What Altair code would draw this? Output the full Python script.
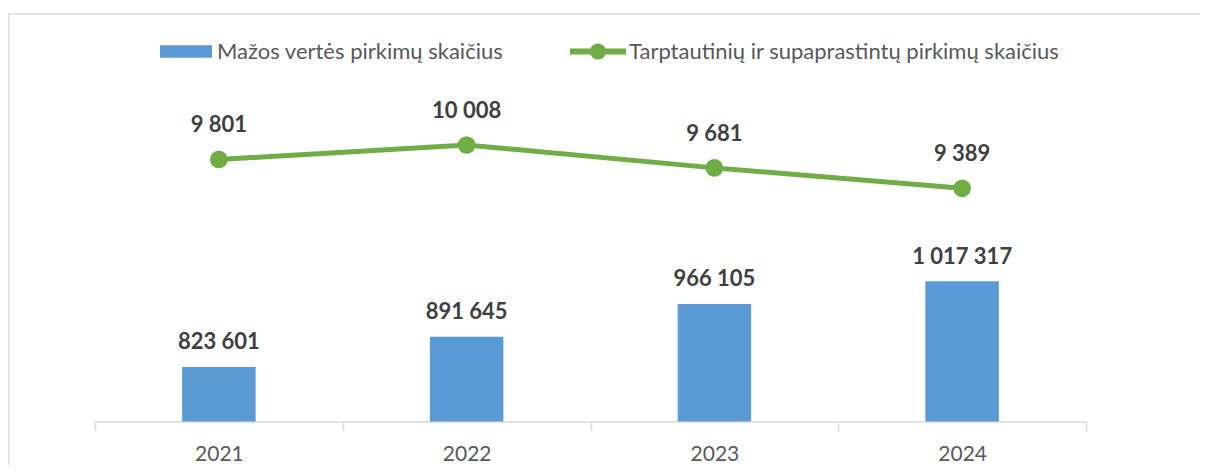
import altair as alt
import pandas as pd

years = ["2021", "2022", "2023", "2024"]
small_counts = [823601, 891645, 966105, 1017317]
intl_counts = [9801, 10008, 9681, 9389]
series_small = "Mažos vertės pirkimų skaičius"
series_intl = "Tarptautinių ir supaprastintų pirkimų skaičius"

BLUE = "#5B9BD5"
GREEN = "#70AD47"
FONT = "Lato"


def fmt(v):
    return f"{v:,}".replace(",", " ")


bars_df = pd.DataFrame({
    "year": years,
    "value": small_counts,
    "label": [fmt(v) for v in small_counts],
    "series": series_small,
})
line_df = pd.DataFrame({
    "year": years,
    "value": intl_counts,
    "label": [fmt(v) for v in intl_counts],
    "series": series_intl,
})

bar_domain = [700000, 1605200]
line_domain = [6058, 11772]

x_enc = alt.X(
    "year:N",
    sort=years,
    scale=alt.Scale(paddingInner=0, paddingOuter=0),
    axis=alt.Axis(
        title=None, labelAngle=0, grid=False,
        domainColor="#d9d9d9", domainWidth=1.5,
        tickColor="#d9d9d9", tickWidth=1.5, tickSize=9, tickBand="extent",
        labelFont=FONT, labelFontSize=21, labelColor="#595959", labelPadding=13,
    ),
)

rect_path = "M-0.93,-0.225H0.93V0.225H-0.93Z"
line_path = ("M-1,-0.107H1V0.107H-1Z "
             "M-0.286,0A0.286,0.286 0 1,1 0.286,0A0.286,0.286 0 1,1 -0.286,0Z")

legend_common = dict(
    title=None, orient="none", legendY=2, direction="horizontal",
    labelFont=FONT, labelFontSize=22, labelColor="#595959", labelLimit=0,
    symbolSize=3136, labelOffset=3, symbolStrokeWidth=0, symbolOpacity=1, padding=0,
)

frame = alt.Chart(pd.DataFrame({"a": [0]})).mark_rect(
    filled=False, stroke="#d9d9d9", strokeWidth=1.5
).encode(
    x=alt.value(-86), x2=alt.value(1300), y=alt.value(-7.5), y2=alt.value(700)
)

bar_y = alt.Y("value:Q", scale=alt.Scale(domain=bar_domain, zero=False, nice=False, clamp=True), axis=None)
line_y = alt.Y("value:Q", scale=alt.Scale(domain=line_domain, zero=False, nice=False), axis=None)

bars = alt.Chart(bars_df).mark_bar(width=73.5).encode(
    x=x_enc,
    y=bar_y,
    color=alt.Color(
        "series:N",
        scale=alt.Scale(domain=[series_small], range=[BLUE]),
        legend=alt.Legend(legendX=63, symbolType=rect_path, symbolFillColor=BLUE, **legend_common),
    ),
)
bar_text = alt.Chart(bars_df).mark_text(
    font=FONT, fontSize=22, fontWeight="bold", color="#404040", dy=-17.5, baseline="alphabetic"
).encode(x=x_enc, y=bar_y, text="label:N")

line = alt.Chart(line_df).mark_line(strokeWidth=5, color=GREEN).encode(x=x_enc, y=line_y)
points = alt.Chart(line_df).mark_circle(size=314, opacity=1).encode(
    x=x_enc,
    y=line_y,
    color=alt.Color(
        "series:N",
        scale=alt.Scale(domain=[series_intl], range=[GREEN]),
        legend=alt.Legend(legendX=475, symbolType=line_path, symbolFillColor=GREEN, **legend_common),
    ),
)
line_text = alt.Chart(line_df).mark_text(
    font=FONT, fontSize=22, fontWeight="bold", color="#404040", dy=-27, baseline="alphabetic"
).encode(x=x_enc, y=line_y, text="label:N")

chart = alt.layer(frame, bars, bar_text, line, points, line_text).resolve_scale(
    y="independent", color="independent"
).resolve_legend(color="independent").properties(
    width=991, height=400,
    autosize="none",
    padding={"left": 87, "top": 13.5, "right": 114, "bottom": 43.5},
    background="white",
).configure_view(strokeWidth=0)

chart.save("out.html", embed_options={"renderer": "svg", "actions": False})
